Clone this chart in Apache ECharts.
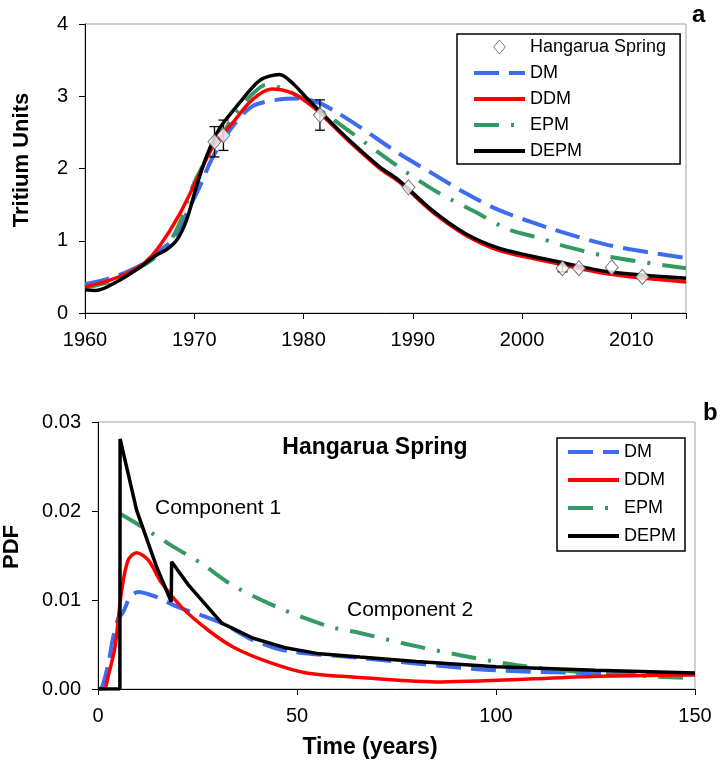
<!DOCTYPE html>
<html>
<head>
<meta charset="utf-8">
<script src="https://cdn.jsdelivr.net/npm/echarts@6/dist/echarts.min.js"></script>
<style>html,body{margin:0;padding:0;background:#fff}#c{width:721px;height:767px}</style>
</head>
<body>
<div id="c"></div>
<script>
// ---- Panel a: tritium (TU) vs year ----
var dmA = [[1960,0.40],[1962,0.47],[1964,0.58],[1966,0.74],[1967,0.88],[1968,1.01],[1969.3,1.38],[1970.5,1.75],[1971.7,2.16],[1973.5,2.58],[1975.3,2.86],[1977.5,2.95],[1979.5,2.97],[1981.4,2.91],[1983,2.78],[1985.1,2.58],[1988.7,2.21],[1991.7,1.94],[1994.8,1.66],[1997.8,1.43],[2000.8,1.26],[2003,1.15],[2007.9,0.94],[2015,0.76]];
var ddmA = [[1960,0.36],[1962,0.44],[1964,0.56],[1965.5,0.70],[1966.8,0.92],[1968.7,1.38],[1970.5,1.93],[1971.7,2.30],[1973.5,2.63],[1975.3,2.95],[1977.1,3.10],[1979,3.04],[1980.8,2.86],[1982.3,2.65],[1984.2,2.37],[1986.9,2.01],[1988.7,1.82],[1991.7,1.41],[1994.8,1.08],[1997.8,0.87],[2000.8,0.76],[2003.3,0.68],[2007.9,0.54],[2015,0.43]];
var epmA = [[1960,0.35],[1962,0.42],[1964,0.55],[1966,0.72],[1967.5,0.92],[1968.8,1.29],[1969.7,1.70],[1971,2.10],[1972.5,2.45],[1973.5,2.70],[1975,2.98],[1976.6,3.16],[1978.2,3.10],[1980,2.96],[1982.6,2.69],[1985.7,2.35],[1989.3,1.96],[1992.4,1.66],[1995.7,1.40],[1998.7,1.16],[2001.8,1.03],[2003.3,0.95],[2007.9,0.78],[2015,0.62]];
var depmA = [[1960,0.32],[1961,0.31],[1963,0.44],[1965,0.63],[1966.5,0.80],[1967.4,0.87],[1968.4,1.01],[1969.3,1.29],[1970.2,1.75],[1971.1,2.16],[1972.3,2.55],[1974.1,2.90],[1976,3.22],[1977.8,3.30],[1979,3.18],[1980.2,2.99],[1982.3,2.67],[1984.2,2.39],[1986.9,2.03],[1988.7,1.84],[1991.7,1.43],[1994.8,1.10],[1997.8,0.90],[2000.8,0.79],[2003.3,0.71],[2007.9,0.57],[2015,0.48]];
// observations: [year, TU, error]
var obsA = [[1971.85,2.37,0.21],[1972.67,2.46,0.21],[1981.5,2.74,0.21],[1989.6,1.74,0],[2003.7,0.62,0.05],[2005.2,0.62,0],[2008.2,0.63,0],[2011,0.50,0]];
var yearTicks = [1960,1970,1980,1990,2000,2010];
var tuTicks = [0,1,2,3,4];

// ---- Panel b: PDF vs time (years) ----
var dmB = [[0,0],[1,0.0002],[2.6,0.0029],[3.85,0.0059],[5,0.0078],[6.4,0.0087],[8,0.0103],[10.1,0.0109],[14.3,0.0104],[20.2,0.0092],[31.1,0.0074],[39,0.0055],[47.4,0.0043],[65.8,0.0035],[100,0.0021],[150,0.0016]];
var ddmB = [[0,0],[1.5,0],[2.6,0.0015],[4.3,0.0048],[5.95,0.0111],[7.6,0.0145],[9.7,0.0153],[12.6,0.0145],[16,0.0119],[21,0.0092],[27.7,0.0066],[34.4,0.0046],[43.6,0.0029],[52.4,0.0018],[65.8,0.0013],[86.3,0.0008],[124,0.0014],[150,0.0016]];
var epmB = [[5.55,0.0197],[9.7,0.0186],[18.9,0.0160],[26,0.0141],[34,0.0116],[46,0.0090],[58.3,0.0070],[65.8,0.0063],[78,0.0050],[91,0.0038],[105,0.0027],[124,0.0018],[150,0.0012]];
var depmB = [[0,0],[5.5,0],[5.55,0.0281],[9.7,0.0201],[14.7,0.01375],[18.4,0.0098],[18.5,0.0143],[22.7,0.0117],[31.1,0.0074],[39,0.0057],[47.4,0.0046],[55,0.0040],[65.8,0.0036],[80,0.0031],[100,0.0025],[125,0.0021],[150,0.0018]];
var timeTicks = [0,50,100,150];
var pdfTicks = [0,0.01,0.02,0.03];

var FONT = 'Liberation Sans, Arial, sans-serif';
var BLUE = '#3d6cf0', RED = '#ff0000', GREEN = '#359a62', BLACK = '#000000';
var DM_DASH = [25,10], EPM_DASH = [25,12,3,12];
var DIAMOND_ICON = 'path://M5,0L10,6L5,12L0,6Z';

var chart = echarts.init(document.getElementById('c'), null, {renderer:'canvas'});

function axisCommon(extra) {
  return Object.assign({
    axisLine: {show:true, onZero:false, lineStyle:{color:'#000', width:1}},
    axisTick: {show:true, inside:false, length:6, lineStyle:{color:'#000', width:1}},
    splitLine: {show:false},
    axisLabel: {color:'#000', fontSize:20, fontFamily:FONT}
  }, extra);
}
function lineItem(name) { return {name:name, itemStyle:{opacity:0}}; }

var option = {
  animation: false,
  textStyle: {fontFamily: FONT},
  grid: [
    {left:85, top:24, width:601, height:289, show:true, borderColor:'#a0a0a0', borderWidth:1, backgroundColor:'#fff'},
    {left:98, top:422, width:597, height:267, show:true, borderColor:'#a0a0a0', borderWidth:1, backgroundColor:'#fff'}
  ],
  xAxis: [
    axisCommon({type:'value', gridIndex:0, min:yearTicks[0], max:2015, interval:10,
      axisLabel:{color:'#000', fontSize:20, fontFamily:FONT, margin:17,
        formatter:function(v){return yearTicks.indexOf(v)>=0 ? String(v) : '';}}}),
    axisCommon({type:'value', gridIndex:1, min:timeTicks[0], max:timeTicks[timeTicks.length-1], interval:50,
      axisLabel:{color:'#000', fontSize:20, fontFamily:FONT, margin:17}})
  ],
  yAxis: [
    axisCommon({type:'value', gridIndex:0, min:tuTicks[0], max:tuTicks[tuTicks.length-1], interval:1,
      axisLabel:{color:'#000', fontSize:20, fontFamily:FONT, margin:17}}),
    axisCommon({type:'value', gridIndex:1, min:pdfTicks[0], max:pdfTicks[pdfTicks.length-1], interval:0.01,
      axisLabel:{color:'#000', fontSize:20, fontFamily:FONT, margin:17, formatter:function(v){return v.toFixed(2);}}})
  ],
  legend: [
    {data:[{name:'Hangarua Spring', icon:DIAMOND_ICON, itemStyle:{color:'#fff', borderColor:'#555', borderWidth:1}},
           lineItem('DM'), lineItem('DDM'), lineItem('EPM'), lineItem('DEPM')],
      orient:'vertical', left:457, top:34, symbolKeepAspect:true,
      padding:[4,14,4,15], itemWidth:51, itemHeight:14, itemGap:8,
      lineStyle:{width:4},
      borderColor:'#000', borderWidth:1.5, backgroundColor:'#fff', selectedMode:false,
      textStyle:{fontSize:18, color:'#000', fontFamily:FONT, lineHeight:18}},
    {data:[lineItem('DM'), lineItem('DDM'), lineItem('EPM'), lineItem('DEPM')],
      orient:'vertical', left:557, top:438,
      padding:[5,9,6,9], itemWidth:51, itemHeight:14, itemGap:10,
      lineStyle:{width:4},
      borderColor:'#000', borderWidth:1.5, backgroundColor:'#fff', selectedMode:false,
      textStyle:{fontSize:18, color:'#000', fontFamily:FONT, lineHeight:18}}
  ],
  graphic: [
    {type:'text', left:692, top:3, style:{text:'a', font:'bold 24px '+FONT, fill:'#000'}},
    {type:'text', left:703, top:401, style:{text:'b', font:'bold 24px '+FONT, fill:'#000'}},
    {type:'text', x:22, y:160, rotation:Math.PI/2, style:{text:'Tritium Units', font:'bold 22px '+FONT, fill:'#000', align:'center', verticalAlign:'middle'}},
    {type:'text', x:12, y:547, rotation:Math.PI/2, style:{text:'PDF', font:'bold 22px '+FONT, fill:'#000', align:'center', verticalAlign:'middle'}},
    {type:'text', x:370, y:748, style:{text:'Time (years)', font:'bold 23px '+FONT, fill:'#000', align:'center', verticalAlign:'middle'}},
    {type:'text', x:375, y:448, z:20, style:{text:'Hangarua Spring', font:'bold 23px '+FONT, fill:'#000', align:'center', verticalAlign:'middle'}},
    {type:'text', x:155, y:508, z:20, style:{text:'Component 1', font:'21px '+FONT, fill:'#000', align:'left', verticalAlign:'middle'}},
    {type:'text', x:347, y:610, z:20, style:{text:'Component 2', font:'21px '+FONT, fill:'#000', align:'left', verticalAlign:'middle'}}
  ],
  series: [
    {name:'DM', type:'line', xAxisIndex:0, yAxisIndex:0, data:dmA, symbol:'none', smooth:0.3,
      lineStyle:{color:BLUE, width:4, type:DM_DASH}, itemStyle:{color:BLUE}, z:2},
    {name:'EPM', type:'line', xAxisIndex:0, yAxisIndex:0, data:epmA, symbol:'none', smooth:0.3,
      lineStyle:{color:GREEN, width:4, type:EPM_DASH}, itemStyle:{color:GREEN}, z:3},
    {name:'DDM', type:'line', xAxisIndex:0, yAxisIndex:0, data:ddmA, symbol:'none', smooth:0.3,
      lineStyle:{color:RED, width:3.5, type:'solid'}, itemStyle:{color:RED}, z:4},
    {name:'DEPM', type:'line', xAxisIndex:0, yAxisIndex:0, data:depmA, symbol:'none', smooth:0.3,
      lineStyle:{color:BLACK, width:3.5, type:'solid'}, itemStyle:{color:BLACK}, z:5},
    {name:'errors', type:'custom', xAxisIndex:0, yAxisIndex:0, data:obsA, z:8,
      renderItem:function(params, api){
        var x = api.value(0), y = api.value(1), e = api.value(2);
        if (!e) return null;
        var top = api.coord([x, y+e]), bot = api.coord([x, y-e]);
        var cw = 5;
        var st = {stroke:'#000', lineWidth:1.3};
        return {type:'group', children:[
          {type:'line', shape:{x1:top[0], y1:top[1], x2:bot[0], y2:bot[1]}, style:st},
          {type:'line', shape:{x1:top[0]-cw, y1:top[1], x2:top[0]+cw, y2:top[1]}, style:st},
          {type:'line', shape:{x1:bot[0]-cw, y1:bot[1], x2:bot[0]+cw, y2:bot[1]}, style:st}
        ]};
      }},
    {name:'Hangarua Spring', type:'scatter', xAxisIndex:0, yAxisIndex:0, data:obsA, symbol:'diamond', symbolSize:[13,15], z:10,
      itemStyle:{color:'#fff', borderColor:'#555', borderWidth:1}},

    {name:'DM', type:'line', xAxisIndex:1, yAxisIndex:1, data:dmB, symbol:'none', smooth:0.3,
      lineStyle:{color:BLUE, width:4, type:DM_DASH}, itemStyle:{color:BLUE}, z:2},
    {name:'EPM', type:'line', xAxisIndex:1, yAxisIndex:1, data:epmB, symbol:'none', smooth:0.3,
      lineStyle:{color:GREEN, width:4, type:EPM_DASH}, itemStyle:{color:GREEN}, z:3},
    {name:'DDM', type:'line', xAxisIndex:1, yAxisIndex:1, data:ddmB, symbol:'none', smooth:0.3,
      lineStyle:{color:RED, width:3.5, type:'solid'}, itemStyle:{color:RED}, z:4},
    {name:'DEPM', type:'line', xAxisIndex:1, yAxisIndex:1, data:depmB, symbol:'none', smooth:false,
      lineStyle:{color:BLACK, width:3.5, type:'solid'}, itemStyle:{color:BLACK}, z:5}
  ]
};
chart.setOption(option);
</script>
</body>
</html>
